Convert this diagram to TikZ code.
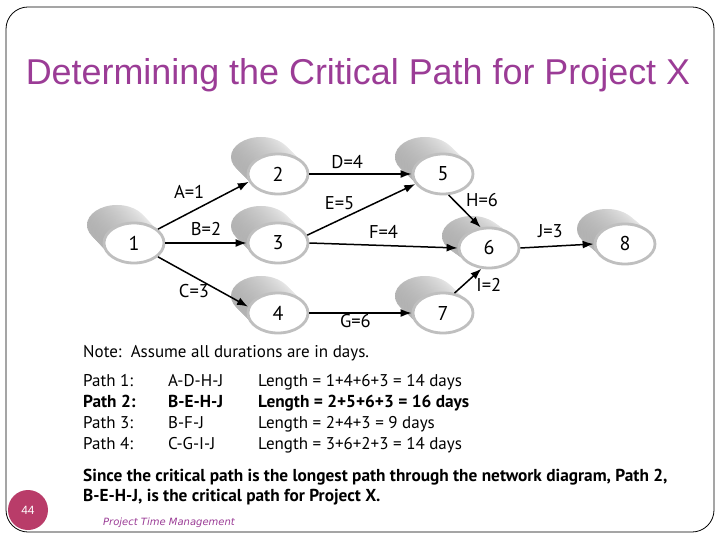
\documentclass[tikz,border=0pt]{standalone}
\usepackage{fontspec}
\setmainfont{PT Sans}
\newfontfamily\titlefont{Liberation Sans}
\newfontfamily\footfont{DejaVu Sans}
\usetikzlibrary{arrows.meta,shapes.geometric}
\definecolor{titlepurple}{RGB}{155,60,150}
\definecolor{numcircle}{RGB}{185,60,105}
\tikzset{
  frame/.style={draw=black, line width=0.8pt, rounded corners=22bp},
  ev/.style={ellipse, fill=white, draw=gray!50, line width=2.8bp, minimum width=60bp, minimum height=40bp, inner sep=0pt, font=\fontsize{20bp}{22bp}\selectfont},
  backell/.style={ellipse, minimum width=60bp, minimum height=40bp, inner sep=0pt, left color=gray!60, right color=gray!12, draw=none},
  arr/.style={-{Latex[length=11bp,width=8bp]}, line width=1.5bp, black},
  elab/.style={font=\fontsize{18.5bp}{20bp}\selectfont, inner sep=1pt},
  body/.style={font=\fontsize{17bp}{20bp}\selectfont, anchor=base west, inner sep=0pt},
  bodyb/.style={body, font=\fontsize{17.3bp}{20bp}\selectfont\bfseries},
}
\newcommand\cylnode[5]{% name, x, y, dx, dy
  \foreach \k in {0,1,...,12}{
    \node[backell] at ({#2+#4*(1-\k/12)},{#3+#5*(1-\k/12)}) {};
  }
}
\begin{document}
\begin{tikzpicture}[x=1bp,y=-1bp]
\useasboundingbox (0,0) rectangle (720,540);
\fill[white] (0,0) rectangle (720,540);
\draw[frame] (6,7) rectangle (714,532);
\node[font=\titlefont\fontsize{35.9bp}{38bp}\selectfont, text=titlepurple] (title) at (358,75) {Determining the Critical Path for Project X};

% nodes
\cylnode{n1}{134}{243}{-17}{-18}
\node[ev] (n1) at (134,243) {1};
\cylnode{n2}{278}{174}{-17}{-17}
\node[ev] (n2) at (278,174) {2};
\cylnode{n3}{278}{243}{-17}{-17}
\node[ev] (n3) at (278,243) {3};
\cylnode{n4}{278}{313}{-17}{-17}
\node[ev] (n4) at (278,313) {4};
\cylnode{n5}{443}{174}{-18}{-17}
\node[ev] (n5) at (443,174) {5};
\cylnode{n6}{489}{248}{-17}{-12}
\node[ev] (n6) at (489,248) {6};
\cylnode{n7}{443}{313}{-18}{-17}
\node[ev] (n7) at (443,313) {7};
\cylnode{n8}{625}{244}{-18}{-15}
\node[ev] (n8) at (625,244) {8};

% connectors
\draw[arr] (n1.30) -- (n2.195) node[elab, pos=0.3, above=15bp, xshift=4bp] {A=1};
\draw[arr] (n1.east) -- (n3.west) node[elab, pos=0.5, above=6bp] {B=2};
\draw[arr] (n1.-30) -- (n4.168) node[elab, pos=0.4, below=6bp] {C=3};
\draw[arr] (n2.east) -- (n5.west) node[elab, pos=0.37, above=4bp] {D=4};
\draw[arr] (n3.15) -- (n5.200) node[elab, pos=0.3, above=8bp] {E=5};
\draw[arr] (n3.east) -- (n6.180) node[elab, pos=0.5, above=5bp] {F=4};
\draw[arr] (n4.east) -- (n7.west) node[elab, pos=0.45, below=0bp] {G=6};
\draw[arr] (n5.-75) -- (n6.112) node[elab, pos=0.15, right=11bp] {H=6};
\draw[arr] (n7.60) -- (n6.-110) node[elab, pos=0.45, right=8bp, yshift=-3bp] {I=2};
\draw[arr] (n6.east) -- (n8.west) node[elab, pos=0.41, above=7bp] {J=3};

% text
\node[body] (note) at (83,357) {Note:\ \ Assume all durations are in days.};
\node[body] (p1a) at (83,386) {Path 1:};
\node[body] (p1b) at (168,386) {A-D-H-J};
\node[body] (p1c) at (258,386) {Length = 1+4+6+3 = 14 days};
\node[bodyb] (p2a) at (83,407) {Path 2:};
\node[bodyb] (p2b) at (168,407) {B-E-H-J};
\node[bodyb] (p2c) at (258,407) {Length = 2+5+6+3 = 16 days};
\node[body] (p3a) at (83,428) {Path 3:};
\node[body] (p3b) at (168,428) {B-F-J};
\node[body] (p3c) at (258,428) {Length = 2+4+3 = 9 days};
\node[body] (p4a) at (83,449) {Path 4:};
\node[body] (p4b) at (168,449) {C-G-I-J};
\node[body] (p4c) at (258,449) {Length = 3+6+2+3 = 14 days};
\node[bodyb] (s1) at (83,481) {Since the critical path is the longest path through the network diagram, Path 2,};
\node[bodyb] (s2) at (83,501) {B-E-H-J, is the critical path for Project X.};

\node[circle, fill=numcircle, minimum size=40bp, inner sep=0pt, text=white, font=\titlefont\fontsize{12bp}{14bp}\selectfont] (num) at (28,510) {44};
\node[anchor=base west, inner sep=0pt, text=titlepurple, font=\footfont\fontsize{10bp}{12bp}\selectfont\itshape] (foot) at (103,525) {Project Time Management};
\end{tikzpicture}
\end{document}
